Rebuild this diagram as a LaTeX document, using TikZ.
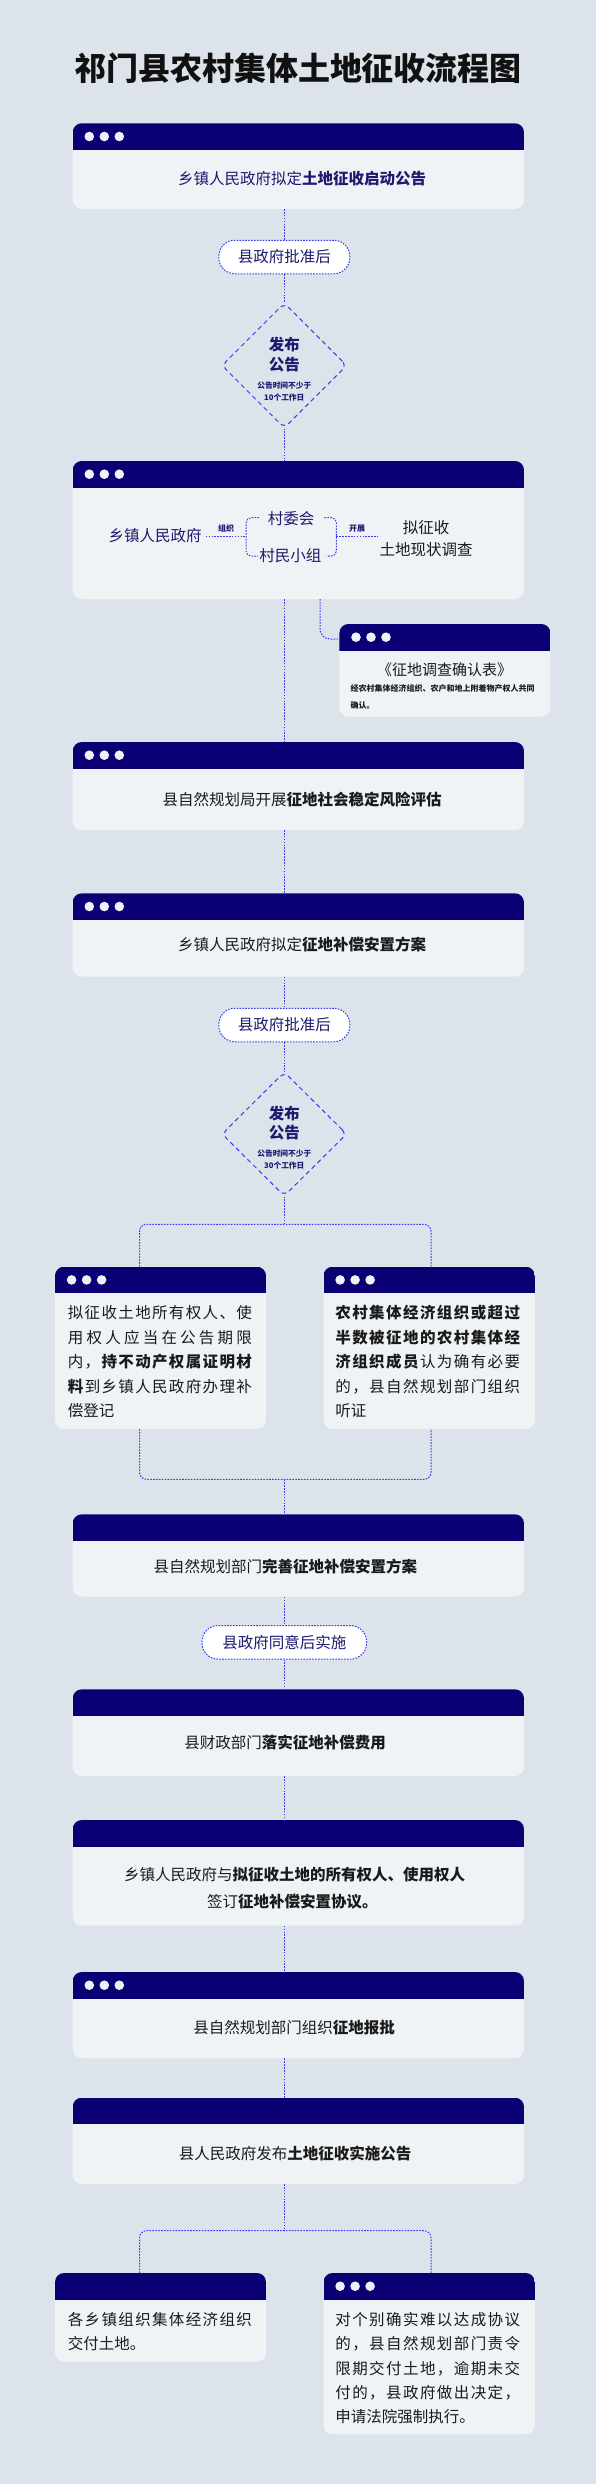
\documentclass[tikz,border=0pt]{standalone}
\usepackage{fontspec}
\setmainfont{Noto Sans CJK SC}
\usetikzlibrary{shapes.geometric,calc}
\definecolor{bgc}{HTML}{DCE3EB}
\definecolor{bodyc}{HTML}{EFF3F5}
\definecolor{hdrc}{HTML}{0A0073}
\definecolor{dotc}{HTML}{EEF2F6}
\definecolor{linec}{HTML}{3A3AEE}
\definecolor{navyc}{HTML}{1D1A70}
\definecolor{darkc}{HTML}{1A1A1A}
\definecolor{titlec}{HTML}{111111}
\makeatletter
\def\spreadchars#1{\spr@first#1\@nil}
\def\spr@first#1{#1\spr@rest}
\def\spr@rest#1{\ifx\@nil#1\else\hfil#1\expandafter\spr@rest\fi}
\makeatother
\newcommand\jline[2]{\hbox to #1pt{#2}}
\tikzset{
  bodyfill/.style={fill=bodyc, rounded corners=9pt, inner sep=0pt, outer sep=0pt, draw=none},
  conn/.style={draw=linec, line width=1pt, dash pattern=on 1.6pt off 1.3pt},
  pill/.style={draw=linec, line width=1pt, dash pattern=on 1.6pt off 1.3pt, fill=white,
    rounded corners=16pt, minimum height=33.5pt, inner sep=0pt, text=navyc,
    font=\fontsize{15.5}{18}\selectfont},
  dia/.style={diamond, draw=linec, line width=1pt, dash pattern=on 4.5pt off 3.5pt,
    rounded corners=6pt, minimum width=125pt, minimum height=125pt, inner sep=0pt},
  txt/.style={inner sep=0pt, font=\fontsize{15.5}{18}\selectfont, text=darkc},
  ntxt/.style={txt, text=navyc},
  lbl/.style={inner sep=0pt, font=\bfseries\fontsize{8}{10}\selectfont, text=navyc},
  dbig/.style={inner sep=0pt, font=\bfseries\fontsize{15.5}{18}\selectfont, text=navyc},
  dsmall/.style={inner sep=0pt, font=\bfseries\fontsize{7.7}{9}\selectfont, text=navyc},
  jtxt/.style={txt, anchor=west},
}
\newcommand\winbox[6]{%
  \node[bodyfill, anchor=north west, minimum width={(#4)-(#2)}, minimum height={(#5)-(#3)}] (#1) at (#2,#3) {};
  \begin{scope}
    \clip[rounded corners=9pt] (#1.north west) rectangle (#1.south east);
    \fill[hdrc] (#1.north west) rectangle ([yshift=-26.7pt]#1.north east);
  \end{scope}
  \ifnum#6=1
    \foreach \k in {0,1,2} \fill[dotc] ([xshift={16.6pt+15pt*\k}, yshift=-13.2pt]#1.north west) circle (4.8pt);
  \fi
}
\begin{document}
\begin{tikzpicture}[x=1pt,y=-1pt]
\useasboundingbox (0,0) rectangle (596,2484);
\fill[bgc] (0,0) rectangle (596,2484);
\coordinate (ax) at (284.3,0);
\coordinate (lx) at (139.5,0);
\coordinate (rx) at (431,0);

% title
\node[inner sep=0pt, font=\bfseries\fontsize{32}{36}\selectfont, text=titlec] (title) at (298,68) {祁门县农村集体土地征收流程图};

% box 1
\winbox{b1}{72.7}{123.3}{524}{209}{1}
\node[ntxt] (t1) at (302,179) {乡镇人民政府拟定\textbf{土地征收启动公告}};

\node[pill, minimum width=131pt] (p1) at (284.3,257) {县政府批准后};

\node[dia] (d1) at (284.3,365.5) {};
\node[dbig] (d1a) at (284.3,345) {发布};
\node[dbig] (d1b) at (284.3,365) {公告};
\node[dsmall] (d1c) at (284.3,385.7) {公告时间不少于};
\node[dsmall] (d1d) at (284.3,397.3) {10个工作日};

% box 2
\winbox{b2}{72.7}{461}{524}{599}{1}
\node[ntxt, inner xsep=4pt] (gov) at (155,536) {乡镇人民政府};
\node[ntxt] (cwh) at (291,518.3) {村委会};
\node[ntxt] (cmxz) at (290.4,556) {村民小组};
\coordinate (brL) at (246,536.7);
\coordinate (brR) at (336.4,536.7);
\node[txt, align=center, inner xsep=1.6pt, font=\fontsize{15.5}{22}\selectfont] (survey) at (426,538.3) {拟征收\\土地现状调查};
\node[lbl] (zz) at (226,528.3) {组织};
\node[lbl] (kz) at (357,528.3) {开展};
\draw[conn] (gov.east |- brL) -- (brL);
\draw[conn, rounded corners=5pt] ([xshift=-8.5pt,yshift=0.6pt]cwh.west) -| (brL) |- ([xshift=-1pt]cmxz.west);
\draw[conn, rounded corners=5pt] ([xshift=10pt,yshift=0.6pt]cwh.east) -| (brR) |- ([xshift=5pt]cmxz.east);
\draw[conn] (brR) -- (brR -| survey.west);

% side box
\winbox{sb}{339.4}{624}{550.4}{716.7}{1}
\node[txt, font=\fontsize{15}{18}\selectfont] (sbt) at (444.7,669.3) {《征地调查确认表》};
\node[txt, anchor=west, font=\bfseries\fontsize{8}{10}\selectfont] (sbl1) at (350.4,688.3) {经农村集体经济组织、农户和地上附着物产权人共同};
\node[txt, anchor=west, font=\bfseries\fontsize{8}{10}\selectfont] (sbl2) at (350.4,705) {确认。};
\coordinate (sbx) at (320,0);
\coordinate (sbin) at ([yshift=-15pt]sb.north west);
\draw[conn, rounded corners=10pt] (sbx |- b2.south) |- (sbin);

% box 3, 4
\winbox{b3}{72.7}{742}{524}{830}{1}
\node[txt] (t3) at (302,800) {县自然规划局开展\textbf{征地社会稳定风险评估}};
\winbox{b4}{72.7}{893.3}{524}{976.7}{1}
\node[txt] (t4) at (302,945) {乡镇人民政府拟定\textbf{征地补偿安置方案}};

\node[pill, minimum width=131pt] (p2) at (284.3,1025) {县政府批准后};

\node[dia, minimum height=124pt] (d2) at (284.3,1134) {};
\node[dbig] (d2a) at (284.3,1113.3) {发布};
\node[dbig] (d2b) at (284.3,1132.7) {公告};
\node[dsmall] (d2c) at (284.3,1153.3) {公告时间不少于};
\node[dsmall] (d2d) at (284.3,1166) {30个工作日};

% two boxes
\winbox{lb1}{55}{1266.7}{266}{1429}{1}
\node[jtxt] (la1) at (67.7,1312.7) {\jline{184}{\spreadchars{拟征收土地所有权人、使}}};
\node[jtxt] (la2) at (67.7,1337.7) {\jline{184}{\spreadchars{用权人应当在公告期限}}};
\node[jtxt] (la3) at (67.7,1361.7) {\jline{184}{\spreadchars{内，}\hfil{\bfseries\spreadchars{持不动产权属证明材}}}};
\node[jtxt] (la4) at (67.7,1386.7) {\jline{184}{{\bfseries 料}\hfil\spreadchars{到乡镇人民政府办理补}}};
\node[jtxt] (la5) at (67.7,1410.7) {偿登记};

\winbox{rb1}{323.5}{1266.7}{534.8}{1429}{1}
\node[jtxt] (ra1) at (335.2,1312.7) {\jline{184.7}{{\bfseries\spreadchars{农村集体经济组织或超过}}}};
\node[jtxt] (ra2) at (335.2,1337.7) {\jline{184.7}{{\bfseries\spreadchars{半数被征地的农村集体经}}}};
\node[jtxt] (ra3) at (335.2,1361.7) {\jline{184.7}{{\bfseries\spreadchars{济组织成员}}\hfil\spreadchars{认为确有必要}}};
\node[jtxt] (ra4) at (335.2,1386.7) {\jline{184.7}{\spreadchars{的，县自然规划部门组织}}};
\node[jtxt] (ra5) at (335.2,1410.7) {听证};

\coordinate (jn1) at (284.3,1224.3);
\coordinate (jn2) at (284.3,1479.3);

% box 5
\winbox{b5}{72.7}{1514.3}{524}{1596.7}{0}
\node[txt] (t5) at (285.4,1566.7) {县自然规划部门\textbf{完善征地补偿安置方案}};

\node[pill, minimum width=164.6pt] (p3) at (284.3,1642.3) {县政府同意后实施};

\winbox{b6}{72.7}{1689.3}{524}{1776}{0}
\node[txt] (t6) at (285,1742.3) {县财政部门\textbf{落实征地补偿费用}};

\winbox{b7}{72.7}{1820}{524}{1925.7}{0}
\node[txt] (t7a) at (294.6,1875) {乡镇人民政府与\textbf{拟征收土地的所有权人、使用权人}};
\node[txt] (t7b) at (292.3,1901.7) {签订\textbf{征地补偿安置协议。}};

\winbox{b8}{72.7}{1972}{524}{2058.3}{1}
\node[txt] (t8) at (294,2027.3) {县自然规划部门组织\textbf{征地报批}};

\winbox{b9}{72.7}{2097.7}{524}{2184}{0}
\node[txt] (t9) at (295,2153.3) {县人民政府发布\textbf{土地征收实施公告}};

\coordinate (jn3) at (284.3,2230.7);

\winbox{lb2}{55}{2273}{266}{2361.7}{0}
\node[jtxt] (lc1) at (67.7,2320) {\jline{184}{\spreadchars{各乡镇组织集体经济组织}}};
\node[jtxt] (lc2) at (67.7,2343.3) {交付土地。};

\winbox{rb2}{323.5}{2273}{534.8}{2434.3}{1}
\node[jtxt] (rc1) at (335.2,2320) {\jline{184.7}{\spreadchars{对个别确实难以达成协议}}};
\node[jtxt] (rc2) at (335.2,2344) {\jline{184.7}{\spreadchars{的，县自然规划部门责令}}};
\node[jtxt] (rc3) at (335.2,2368.3) {\jline{184.7}{\spreadchars{限期交付土地，逾期未交}}};
\node[jtxt] (rc4) at (335.2,2392.7) {\jline{184.7}{\spreadchars{付的，县政府做出决定，}}};
\node[jtxt] (rc5) at (335.2,2416.7) {申请法院强制执行。};

% connectors
\draw[conn] (ax |- b1.south) -- (p1.north);
\draw[conn] (p1.south) -- (d1.north);
\draw[conn] (d1.south) -- (ax |- b2.north);
\draw[conn] (ax |- b2.south) -- (ax |- b3.north);
\draw[conn] (ax |- b3.south) -- (ax |- b4.north);
\draw[conn] (ax |- b4.south) -- (p2.north);
\draw[conn] (p2.south) -- (d2.north);
\draw[conn] (d2.south) -- (jn1);
\draw[conn, rounded corners=7pt] (lx |- lb1.north) |- (jn1) -| (rx |- rb1.north);
\draw[conn, rounded corners=7pt] (lx |- lb1.south) |- (jn2) -| (rx |- rb1.south);
\draw[conn] (jn2) -- (ax |- b5.north);
\draw[conn] (ax |- b5.south) -- (p3.north);
\draw[conn] (p3.south) -- (ax |- b6.north);
\draw[conn] (ax |- b6.south) -- (ax |- b7.north);
\draw[conn] (ax |- b7.south) -- (ax |- b8.north);
\draw[conn] (ax |- b8.south) -- (ax |- b9.north);
\draw[conn] (ax |- b9.south) -- (jn3);
\draw[conn, rounded corners=7pt] (lx |- lb2.north) |- (jn3) -| (rx |- rb2.north);
\end{tikzpicture}
\end{document}
